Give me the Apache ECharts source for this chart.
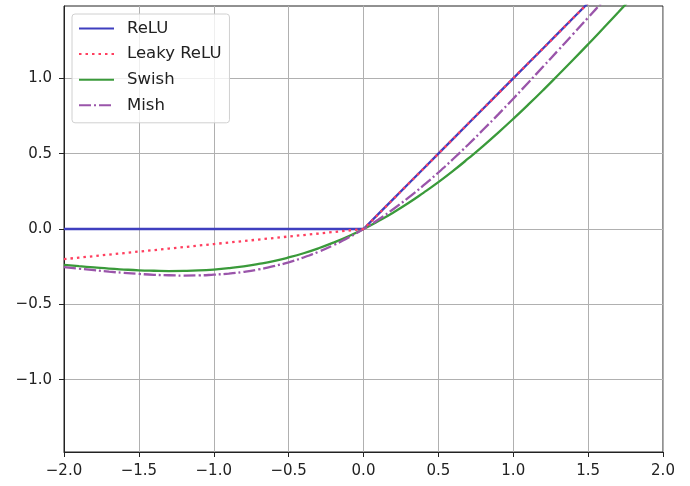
<!DOCTYPE html>
<html>
<head>
<meta charset="utf-8">
<script src="https://cdn.jsdelivr.net/npm/echarts@6/dist/echarts.min.js"></script>
<style>
  html, body { margin: 0; padding: 0; background: #fff; }
  #chart { width: 690px; height: 486px; }
</style>
</head>
<body>
<div id="chart"></div>
<script>
// x positions (step 0.1)
const xValues = [-2.0, -1.9, -1.8, -1.7, -1.6, -1.5, -1.4, -1.3, -1.2, -1.1, -1.0, -0.9, -0.8, -0.7, -0.6, -0.5, -0.4, -0.3, -0.2, -0.1,
  0.0, 0.1, 0.2, 0.3, 0.4, 0.5, 0.6, 0.7, 0.8, 0.9, 1.0, 1.1, 1.2, 1.3, 1.4, 1.5, 1.6, 1.7, 1.8, 1.9, 2.0]

const reluValues = [0, 0, 0, 0, 0, 0, 0, 0, 0, 0, 0, 0, 0, 0, 0, 0, 0, 0, 0, 0,
  0, 0.1, 0.2, 0.3, 0.4, 0.5, 0.6, 0.7, 0.8, 0.9, 1.0, 1.1, 1.2, 1.3, 1.4, 1.5, 1.6, 1.7, 1.8, 1.9, 2.0]

const leakyValues = [-0.20, -0.19, -0.18, -0.17, -0.16, -0.15, -0.14, -0.13, -0.12, -0.11, -0.10, -0.09, -0.08, -0.07, -0.06, -0.05, -0.04, -0.03, -0.02, -0.01,
  0, 0.1, 0.2, 0.3, 0.4, 0.5, 0.6, 0.7, 0.8, 0.9, 1.0, 1.1, 1.2, 1.3, 1.4, 1.5, 1.6, 1.7, 1.8, 1.9, 2.0]

const swishValues = [-0.238, -0.247, -0.255, -0.263, -0.269, -0.274, -0.277, -0.279, -0.278, -0.275, -0.269, -0.260, -0.248, -0.232, -0.213, -0.189, -0.161, -0.128, -0.090, -0.048,
  0, 0.053, 0.110, 0.172, 0.240, 0.311, 0.387, 0.468, 0.552, 0.640, 0.731, 0.825, 0.922, 1.022, 1.123, 1.226, 1.331, 1.437, 1.545, 1.653, 1.762]

const mishValues = [-0.253, -0.263, -0.273, -0.283, -0.291, -0.298, -0.304, -0.307, -0.309, -0.308, -0.303, -0.296, -0.284, -0.268, -0.247, -0.221, -0.189, -0.151, -0.107, -0.057,
  0, 0.063, 0.133, 0.208, 0.289, 0.375, 0.466, 0.561, 0.660, 0.761, 0.865, 0.971, 1.078, 1.186, 1.294, 1.403, 1.512, 1.620, 1.729, 1.836, 1.944]

const yTicks = [-1.0, -0.5, 0.0, 0.5, 1.0]

const zip = ys => xValues.map((x, i) => [x, ys[i]])
const fmt = v => v.toFixed(1).replace('-', '\u2212')

const chart = echarts.init(document.getElementById('chart'), null, { renderer: 'canvas' })

const gridLine = { show: true, lineStyle: { color: '#b0b0b0', width: 1 } }
const axisLabel = { color: '#222', fontFamily: 'DejaVu Sans', fontSize: 15, formatter: fmt }

chart.setOption({
  animation: false,
  grid: { left: 64, right: 27, top: 6, bottom: 34, show: true, borderColor: '#222', borderWidth: 1, backgroundColor: 'transparent' },
  legend: {
    orient: 'vertical', left: 72, top: 14,
    padding: [6, 8, 9, 6],
    itemWidth: 35, itemHeight: 16, itemGap: 8.6,
    itemStyle: { opacity: 0 },
    backgroundColor: 'rgba(255,255,255,0.8)',
    borderColor: '#d0d0d0', borderWidth: 1, borderRadius: 3,
    textStyle: { fontFamily: 'DejaVu Sans', fontSize: 16.5, color: '#222', padding: [0, 0, 0, 8] },
    data: ['ReLU', 'Leaky ReLU', 'Swish', 'Mish']
  },
  xAxis: {
    type: 'value', min: -2, max: 2, interval: 0.5,
    axisLine: { show: true, onZero: false, lineStyle: { color: '#222', width: 1 } },
    axisTick: { show: true, length: 5, lineStyle: { color: '#222' } },
    axisLabel: { ...axisLabel, margin: 12 },
    splitLine: gridLine
  },
  yAxis: {
    type: 'value', min: -1.48, max: 1.48,
    axisLine: { show: true, onZero: false, lineStyle: { color: '#222', width: 1 } },
    axisTick: { show: true, length: 5, customValues: yTicks, lineStyle: { color: '#222' } },
    axisLabel: { ...axisLabel, margin: 12, customValues: yTicks },
    splitLine: gridLine
  },
  series: [
    {
      name: 'ReLU', type: 'line', data: zip(reluValues), showSymbol: false, symbol: 'none',
      lineStyle: { color: '#3f3fbf', width: 2.3 }, itemStyle: { color: '#3f3fbf' }, z: 3
    },
    {
      name: 'Leaky ReLU', type: 'line', data: zip(leakyValues), showSymbol: false, symbol: 'none',
      lineStyle: { color: '#ff3f5f', width: 2.3, type: [2.5, 4] }, itemStyle: { color: '#ff3f5f' }, z: 4
    },
    {
      name: 'Swish', type: 'line', data: zip(swishValues), showSymbol: false, symbol: 'none', smooth: true,
      lineStyle: { color: '#3a9a3a', width: 2.3 }, itemStyle: { color: '#3a9a3a' }, z: 3
    },
    {
      name: 'Mish', type: 'line', data: zip(mishValues), showSymbol: false, symbol: 'none', smooth: true,
      lineStyle: { color: '#9a55aa', width: 2.3, type: [12, 3, 2, 3] }, itemStyle: { color: '#9a55aa' }, z: 3
    }
  ]
})
</script>
</body>
</html>
